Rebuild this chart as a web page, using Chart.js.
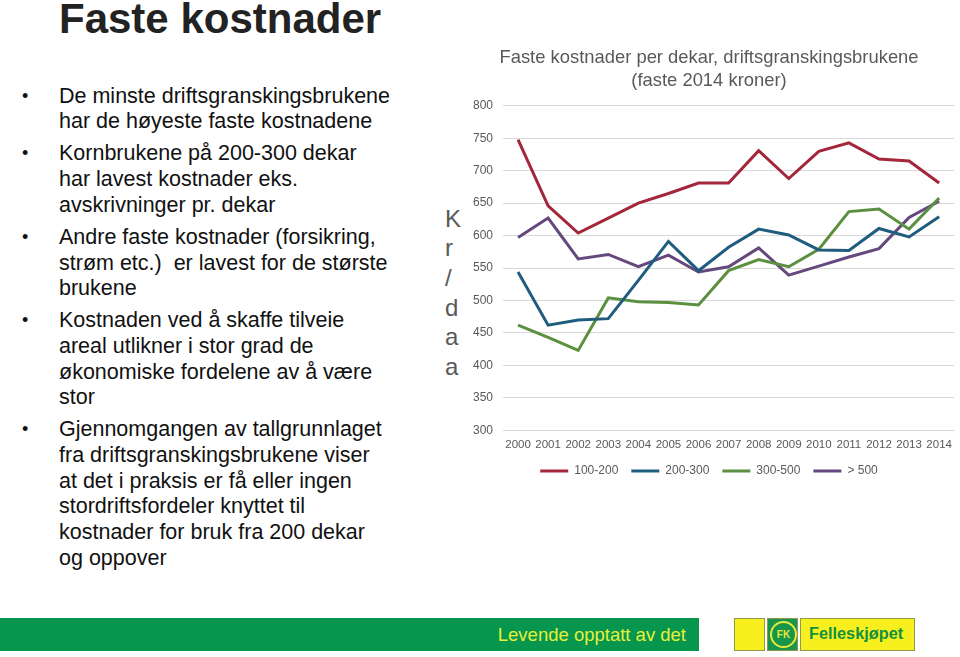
<!DOCTYPE html>
<html lang="no">
<head>
    <meta charset="UTF-8">
    <title>Faste kostnader</title>
    <style>
        body {
            margin: 0;
            width: 960px;
            height: 657px;
            overflow: hidden;
            background: #fff;
            font-family: "Liberation Sans", Arial, sans-serif;
            position: relative;
        }
        h1 {
            position: absolute;
            left: 59px;
            top: -5px;
            margin: 0;
            font-size: 42px;
            line-height: 48px;
            font-weight: bold;
            color: #222;
        }
        ul.points {
            position: absolute;
            left: 0;
            top: 83.7px;
            margin: 0;
            padding: 0;
            list-style: none;
            font-size: 21.5px;
            line-height: 25.7px;
            color: #111;
            white-space: nowrap;
        }
        ul.points li {
            position: relative;
            padding-left: 59px;
            margin-bottom: 6.3px;
        }
        ul.points li::before {
            content: "\2022";
            position: absolute;
            left: 22px;
            font-size: 18px;
        }
        .yTitle {
            position: absolute;
            left: 445px;
            top: 203.5px;
            font-size: 24px;
            line-height: 29.7px;
            color: #595959;
        }
        .chartBox {
            position: absolute;
            left: 460px;
            top: 40px;
            width: 500px;
            height: 447px;
        }
        .footBar {
            position: absolute;
            left: 0;
            top: 618px;
            width: 699px;
            height: 33px;
            background: #06964e;
        }
        .footBar span {
            position: absolute;
            right: 13px;
            top: 6px;
            font-size: 18.5px;
            color: #e6f03a;
        }
        .logo div {
            position: absolute;
            top: 618px;
            height: 31px;
            border: 1px solid #8f9a4c;
        }
        .logo .y1 { left: 734px; width: 29px; background: #f7f01e; }
        .logo .g { left: 767px; width: 29px; background: #18954a; }
        .logo .y2 { left: 800px; width: 113px; background: #f7f01e; }
        .logo .ring {
            position: absolute;
            left: 2px;
            top: 2px;
            width: 23px;
            height: 23px;
            border: 2px solid #e8ea3a;
            border-radius: 50%;
            font-size: 10px;
            line-height: 23px;
            text-align: center;
            font-weight: bold;
            color: #e8ea3a;
        }
        .logo .y2 span {
            position: absolute;
            left: 8px;
            top: 5px;
            font-size: 16.3px;
            font-weight: bold;
            color: #13913f;
        }
    </style>
</head>
<body>
    <h1>Faste kostnader</h1>
    <ul class="points">
        <li>De minste driftsgranskingsbrukene<br>har de høyeste faste kostnadene</li>
        <li>Kornbrukene på 200-300 dekar<br>har lavest kostnader eks.<br>avskrivninger pr. dekar</li>
        <li>Andre faste kostnader (forsikring,<br>strøm etc.)&nbsp; er lavest for de største<br>brukene</li>
        <li>Kostnaden ved å skaffe tilveie<br>areal utlikner i stor grad de<br>økonomiske fordelene av å være<br>stor</li>
        <li>Gjennomgangen av tallgrunnlaget<br>fra driftsgranskingsbrukene viser<br>at det i praksis er få eller ingen<br>stordriftsfordeler knyttet til<br>kostnader for bruk fra 200 dekar<br>og oppover</li>
    </ul>

    <div class="yTitle">K<br>r<br>/<br>d<br>a<br>a</div>
    <div class="chartBox"><canvas id="chart"></canvas></div>

    <div class="footBar"><span>Levende opptatt av det</span></div>
    <div class="logo">
        <div class="y1"></div>
        <div class="g"><div class="ring">FK</div></div>
        <div class="y2"><span>Felleskjøpet</span></div>
    </div>

    <script src="https://cdn.jsdelivr.net/npm/chart.js"></script>
    <script>
        const years = ['2000', '2001', '2002', '2003', '2004', '2005', '2006', '2007',
                       '2008', '2009', '2010', '2011', '2012', '2013', '2014'];
        const cost100to200 = [748, 646, 604, 627, 650, 665, 681, 681, 731, 688, 730, 743, 718, 715, 681];
        const cost200to300 = [544, 462, 470, 472, 531, 591, 546, 582, 610, 601, 578, 577, 611, 598, 629];
        const cost300to500 = [462, 443, 423, 504, 498, 497, 493, 546, 563, 552, 579, 637, 641, 610, 658];
        const costOver500  = [597, 627, 564, 571, 552, 570, 544, 552, 581, 539, 553, 567, 580, 628, 653];
        const yTicks = [300, 350, 400, 450, 500, 550, 600, 650, 700, 750, 800];

        const grey = '#595959';

        function line(label, data, color) {
            return {
                label: label,
                data: data,
                borderColor: color,
                backgroundColor: color,
                borderWidth: 3,
                pointRadius: 0,
                tension: 0,
                fill: false
            };
        }

        const ctx = document.getElementById('chart').getContext('2d');
        new Chart(ctx, {
            type: 'line',
            data: {
                labels: years,
                datasets: [
                    line('100-200', cost100to200, '#a3263a'),
                    line('200-300', cost200to300, '#1f5c7e'),
                    line('300-500', cost300to500, '#5a9040'),
                    line('> 500', costOver500, '#65497e')
                ]
            },
            options: {
                responsive: true,
                maintainAspectRatio: false,
                devicePixelRatio: 1,
                animation: false,
                layout: { padding: { right: 2 } },
                plugins: {
                    title: {
                        display: true,
                        text: ['Faste kostnader per dekar, driftsgranskingsbrukene', '(faste 2014 kroner)'],
                        color: grey,
                        font: { family: 'Liberation Sans', size: 18.4, weight: 'normal', lineHeight: 1.22 },
                        padding: { top: 7, bottom: 14 }
                    },
                    legend: {
                        position: 'bottom',
                        labels: {
                            color: grey,
                            font: { family: 'Liberation Sans', size: 12 },
                            usePointStyle: true,
                            pointStyle: 'line',
                            pointStyleWidth: 28,
                            padding: 13
                        }
                    },
                    tooltip: { enabled: false }
                },
                scales: {
                    x: {
                        offset: true,
                        afterFit: (scale) => { scale.height -= 8; },
                        grid: { display: false, drawTicks: false },
                        border: { display: false },
                        ticks: {
                            color: grey,
                            font: { family: 'Liberation Sans', size: 11.5 },
                            maxRotation: 0,
                            autoSkip: false,
                            padding: 8
                        }
                    },
                    y: {
                        min: 300,
                        max: 800,
                        afterFit: (scale) => { scale.width = 43; },
                        afterBuildTicks: (scale) => { scale.ticks = yTicks.map(v => ({ value: v })); },
                        grid: { color: '#d9d9d9', lineWidth: 1, drawTicks: false },
                        border: { display: false },
                        ticks: {
                            color: grey,
                            font: { family: 'Liberation Sans', size: 12 },
                            padding: 10
                        }
                    }
                }
            }
        });
    </script>
</body>
</html>
